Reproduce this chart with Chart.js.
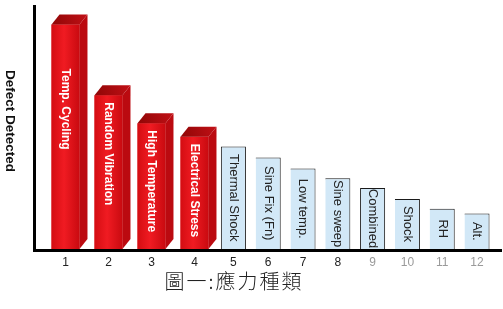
<!DOCTYPE html>
<html>
<head>
<meta charset="utf-8">
<script src="https://cdn.jsdelivr.net/npm/chart.js@4/dist/chart.umd.min.js"></script>
<style>
  html, body { margin: 0; padding: 0; background: #ffffff; }
  #wrap { width: 503px; height: 309px; }
</style>
</head>
<body>
<div id="wrap"><canvas id="c" width="503" height="309"></canvas></div>
<script>
// Stress types ranked by defects detected
const categories = ['1', '2', '3', '4', '5', '6', '7', '8', '9', '10', '11', '12'];
const stressNames = ['Temp. Cycling', 'Random Vibration', 'High Temperature', 'Electrical Stress',
  'Thermal Shock', 'Sine Fix (Fn)', 'Low temp.', 'Sine sweep', 'Combined', 'Shock', 'RH', 'Alt.'];
const defectsDetected = [92, 63, 51.5, 46, 42, 37.5, 33, 29, 25, 20.5, 16.5, 14.5];
const majorCount = 4; // the four leading stresses are drawn as red 3D columns

const yTitle = 'Defect Detected';
const caption = '圖一:應力種類';

const majorLabels = categories.slice(0, majorCount);
const minorLabels = categories.slice(majorCount);

const DEPTH_X = 8, DEPTH_Y = 10;

const decorPlugin = {
  id: 'decor',
  afterDatasetsDraw(chart) {
    const ctx = chart.ctx;
    const area = chart.chartArea;

    // red columns: front gradient, side and top faces
    const redMeta = chart.getDatasetMeta(0);
    redMeta.data.forEach((bar) => {
      const p = bar.getProps(['x', 'y', 'base', 'width'], true);
      const l = p.x - p.width / 2, r = p.x + p.width / 2, t = p.y, b = p.base;
      ctx.save();
      const g = ctx.createLinearGradient(l, 0, r, 0);
      g.addColorStop(0, '#d40d12');
      g.addColorStop(0.45, '#f01b22');
      g.addColorStop(1, '#c90a10');
      ctx.fillStyle = g;
      ctx.fillRect(l, t, r - l, b - t);
      // side face
      ctx.beginPath();
      ctx.moveTo(r, t);
      ctx.lineTo(r + DEPTH_X, t - DEPTH_Y);
      ctx.lineTo(r + DEPTH_X, b - DEPTH_Y);
      ctx.lineTo(r, b);
      ctx.closePath();
      ctx.fillStyle = '#bb0a10';
      ctx.fill();
      // top face
      const tg = ctx.createLinearGradient(l, t, r + DEPTH_X, t - DEPTH_Y);
      tg.addColorStop(0, '#8f0606');
      tg.addColorStop(1, '#c21016');
      ctx.beginPath();
      ctx.moveTo(l, t);
      ctx.lineTo(l + DEPTH_X, t - DEPTH_Y);
      ctx.lineTo(r + DEPTH_X, t - DEPTH_Y);
      ctx.lineTo(r, t);
      ctx.closePath();
      ctx.fillStyle = tg;
      ctx.fill();
      ctx.restore();
    });

    // names written down each column
    const drawName = (x, y, text, font, color, align) => {
      ctx.save();
      ctx.translate(x, y);
      ctx.rotate(Math.PI / 2);
      ctx.font = font;
      ctx.fillStyle = color;
      ctx.textAlign = align;
      ctx.textBaseline = 'middle';
      ctx.fillText(text, 0, 0);
      ctx.restore();
    };
    redMeta.data.forEach((bar, i) => {
      const p = bar.getProps(['x', 'y'], true);
      drawName(p.x, p.y + (i === 0 ? 44 : 7), stressNames[i],
        'bold 12px "Liberation Sans", Arial, sans-serif', '#ffffff', 'left');
    });
    chart.getDatasetMeta(1).data.forEach((bar, i) => {
      const p = bar.getProps(['x', 'y', 'base'], true);
      drawName(p.x, (p.y + p.base) / 2, stressNames[majorCount + i],
        '13px "Liberation Sans", Arial, sans-serif', '#222222', 'center');
    });

    // axes lines
    ctx.save();
    ctx.fillStyle = '#000000';
    ctx.fillRect(33, 5, 3, area.bottom + 3 - 5);
    ctx.fillRect(33, area.bottom, 502 - 33, 3);
    ctx.restore();
  },
  afterDraw(chart) {
    const ctx = chart.ctx;
    ctx.save();
    // vertical axis title
    ctx.translate(10, 121);
    ctx.rotate(Math.PI / 2);
    ctx.font = 'bold 13.5px "Liberation Sans", Arial, sans-serif';
    ctx.fillStyle = '#111111';
    ctx.textAlign = 'center';
    ctx.textBaseline = 'middle';
    ctx.fillText(yTitle, 0, 0);
    ctx.restore();

    // caption under the category axis
    ctx.save();
    ctx.font = '300 20px "Noto Sans CJK TC", sans-serif';
    ctx.letterSpacing = '2px';
    ctx.fillStyle = '#222222';
    ctx.textAlign = 'center';
    ctx.textBaseline = 'middle';
    ctx.fillText(caption, 234, 281);
    ctx.restore();
  }
};

const tickStyle = (colorFn) => ({
  color: colorFn,
  font: { family: '"Liberation Sans", Arial, sans-serif', size: 12 },
  padding: 6,
  maxRotation: 0,
  autoSkip: false
});

new Chart(document.getElementById('c'), {
  type: 'bar',
  data: {
    datasets: [
      {
        label: 'major',
        xAxisID: 'xMajor',
        data: defectsDetected.slice(0, majorCount),
        backgroundColor: '#e3141b',
        borderWidth: 0,
        grouped: false,
        categoryPercentage: 1,
        barPercentage: 0.65
      },
      {
        label: 'minor',
        xAxisID: 'xMinor',
        data: defectsDetected.slice(majorCount),
        backgroundColor: '#d2e8f7',
        borderColor: '#1a1a1a',
        borderSkipped: false,
        borderWidth: (c) => ({ top: 1, right: 1, bottom: 0, left: (c.dataIndex === 0 || c.dataIndex === 4) ? 1 : 0 }),
        grouped: false,
        categoryPercentage: 1,
        barPercentage: 0.72
      }
    ]
  },
  options: {
    responsive: false,
    animation: false,
    events: [],
    layout: { padding: { left: 44, right: 8.6, top: 5, bottom: 0 } },
    plugins: { legend: { display: false }, tooltip: { enabled: false } },
    scales: {
      xMajor: {
        type: 'category',
        labels: majorLabels,
        position: 'bottom',
        stack: 'cats',
        stackWeight: 172,
        offset: true,
        grid: { display: false, drawTicks: false },
        border: { display: false },
        ticks: tickStyle('#222222'),
        afterFit: (s) => { s.height = 60; }
      },
      xMinor: {
        type: 'category',
        labels: minorLabels,
        position: 'bottom',
        stack: 'cats',
        stackWeight: 278.4,
        offset: true,
        grid: { display: false, drawTicks: false },
        border: { display: false },
        ticks: tickStyle((c) => (c.index >= 4 ? '#9a9a9a' : '#222222')),
        afterFit: (s) => { s.height = 60; }
      },
      y: {
        display: false,
        min: 0,
        max: 100
      }
    }
  },
  plugins: [decorPlugin]
});
</script>
</body>
</html>
